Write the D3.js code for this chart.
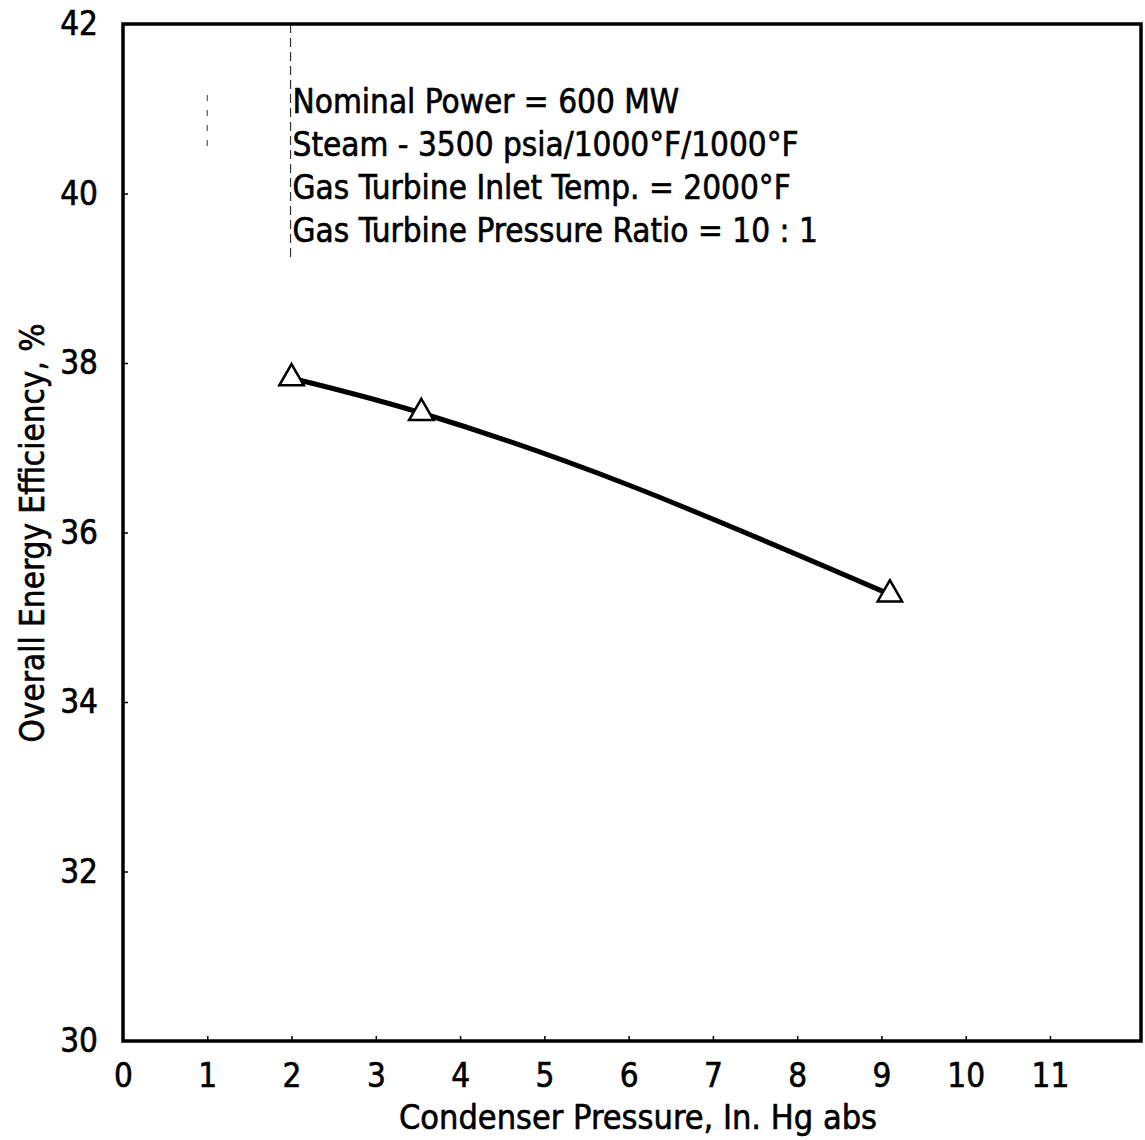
<!DOCTYPE html>
<html>
<head>
<meta charset="utf-8">
<script src="https://cdn.jsdelivr.net/npm/d3@7/dist/d3.min.js"></script>
<style>
  html, body { margin: 0; padding: 0; background: #fff; }
  svg { display: block; }
  text { font-family: "DejaVu Sans Condensed", "Liberation Sans Narrow", sans-serif; fill: #000; stroke: #000; stroke-width: 0.6px; }
</style>
</head>
<body>
<svg id="chart" width="1145" height="1140"></svg>
<script>
// Condenser pressure (in. Hg abs) vs. overall energy efficiency (%)
const pressure = [2.0, 3.54, 9.1];
const efficiency = [37.82, 37.41, 35.27];

// Faired curve through the computed cases
const curvePressure = [2.0, 3.54, 6.0, 9.1];
const curveEfficiency = [37.82, 37.41, 36.56, 35.27];

const xTicks = [0, 1, 2, 3, 4, 5, 6, 7, 8, 9, 10, 11];
const yTicks = [30, 32, 34, 36, 38, 40, 42];

const notes = [
  "Nominal Power = 600 MW",
  "Steam - 3500 psia/1000\u00B0F/1000\u00B0F",
  "Gas Turbine Inlet Temp.  = 2000\u00B0F",
  "Gas Turbine Pressure Ratio = 10 : 1"
];

const xTitle = "Condenser Pressure, In. Hg abs";
const yTitle = "Overall Energy Efficiency, %";

const svg = d3.select("#chart");
const plotLeft = 123, plotRight = 1141, plotTop = 24, plotBottom = 1041;

const x = d3.scaleLinear().domain([0, 12.08]).range([plotLeft, plotRight]);
const y = d3.scaleLinear().domain([30, 42]).range([plotBottom, plotTop]);

// Remnants of faint guide lines near the top of the field
svg.append("line")
  .attr("x1", x(2) - 1).attr("x2", x(2) - 1)
  .attr("y1", plotTop).attr("y2", 262)
  .attr("stroke", "#333").attr("stroke-width", 1.2)
  .attr("stroke-dasharray", "9,5");
svg.append("line")
  .attr("x1", x(1)).attr("x2", x(1))
  .attr("y1", 95).attr("y2", 148)
  .attr("stroke", "#555").attr("stroke-width", 1.2)
  .attr("stroke-dasharray", "6,9");

// Axes
const xAxis = d3.axisBottom(x)
  .tickValues(xTicks)
  .tickFormat(d3.format("d"))
  .tickSizeInner(-5).tickSizeOuter(0).tickPadding(23);
const gx = svg.append("g").attr("transform", `translate(0,${plotBottom})`).call(xAxis);

const yAxis = d3.axisLeft(y)
  .tickValues(yTicks)
  .tickFormat(d3.format("d"))
  .tickSizeInner(-5).tickSizeOuter(0).tickPadding(25);
const gy = svg.append("g").attr("transform", `translate(${plotLeft},0)`).call(yAxis);

[gx, gy].forEach(g => {
  g.select(".domain").remove();
  g.selectAll(".tick line").attr("stroke", "#000").attr("stroke-width", 1.5);
  g.selectAll(".tick text").attr("font-size", 33).attr("fill", "#000");
});

// Frame
svg.append("rect")
  .attr("x", plotLeft).attr("y", plotTop)
  .attr("width", plotRight - plotLeft).attr("height", plotBottom - plotTop)
  .attr("fill", "none").attr("stroke", "#000").attr("stroke-width", 3.5);

// Axis titles
svg.append("text")
  .attr("x", 638).attr("y", 1129)
  .attr("text-anchor", "middle").attr("font-size", 34)
  .text(xTitle);

svg.append("text")
  .attr("transform", `translate(44,533) rotate(-90)`)
  .attr("text-anchor", "middle").attr("font-size", 33)
  .text(yTitle);

// Design-condition notes
svg.append("g").selectAll("text")
  .data(notes)
  .join("text")
  .attr("x", x(2) + 1)
  .attr("y", (d, i) => 113 + i * 43)
  .attr("font-size", 33)
  .text(d => d);

// Efficiency curve
const curvePts = curvePressure.map((p, i) => [p, curveEfficiency[i]]);
svg.append("path")
  .datum(curvePts)
  .attr("fill", "none").attr("stroke", "#000").attr("stroke-width", 5)
  .attr("stroke-linecap", "round")
  .attr("d", d3.line().x(d => x(d[0])).y(d => y(d[1])).curve(d3.curveNatural));

// Computed cases
svg.append("g").selectAll("path")
  .data(pressure.map((p, i) => [p, efficiency[i]]))
  .join("path")
  .attr("transform", d => `translate(${x(d[0])},${y(d[1])})`)
  .attr("d", d3.symbol(d3.symbolTriangle, 260))
  .attr("fill", "#fff").attr("stroke", "#000").attr("stroke-width", 2.5);
</script>
</body>
</html>
